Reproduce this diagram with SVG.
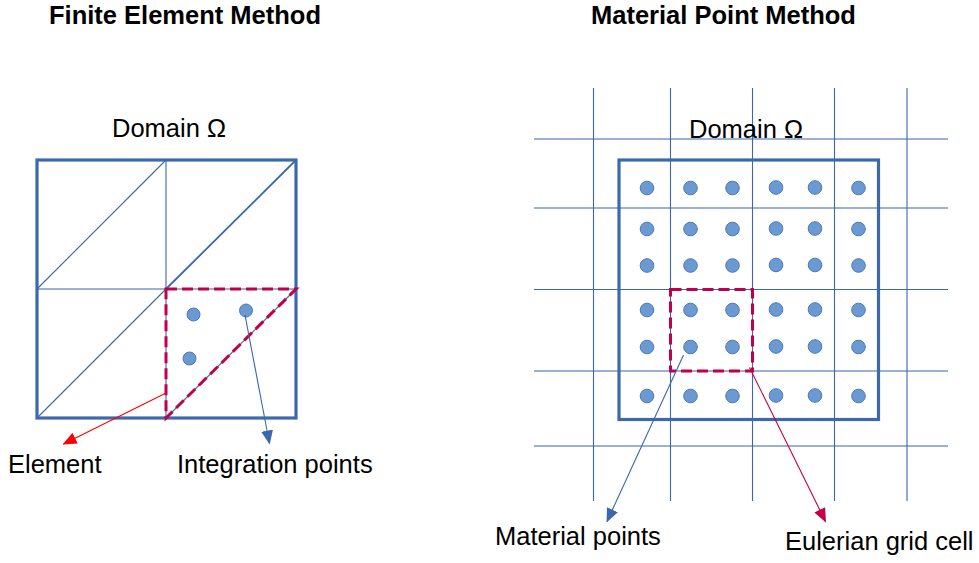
<svg xmlns="http://www.w3.org/2000/svg" width="979" height="563" viewBox="0 0 979 563">
<defs>
<style>
.t{font-family:"Liberation Sans",Arial,sans-serif;font-size:25.5px;fill:#000}
.h{font-family:"Liberation Sans",Arial,sans-serif;font-size:25.5px;font-weight:bold;fill:#000}
.dom{fill:none;stroke:#3D69AA;stroke-width:3.2}
.g{stroke:#3B67AC;stroke-width:1.1;fill:none}
.cell{fill:none;stroke:#C2004A;stroke-width:3;stroke-dasharray:11 5}
.pt{fill:#6B9AD2;stroke:#4A78B6;stroke-width:1}
.ab{stroke:#3B67AC;stroke-width:1.1;fill:none}
</style>
<marker id="mb" markerWidth="14" markerHeight="12" refX="13" refY="6" orient="auto" markerUnits="userSpaceOnUse"><path d="M0,0 L14,6 L0,12 Z" fill="#3B67AC"/></marker>
<marker id="mr" markerWidth="14" markerHeight="12" refX="13" refY="6" orient="auto" markerUnits="userSpaceOnUse"><path d="M0,0 L14,6 L0,12 Z" fill="#FF0000"/></marker>
<marker id="mc" markerWidth="14" markerHeight="12" refX="13" refY="6" orient="auto" markerUnits="userSpaceOnUse"><path d="M0,0 L14,6 L0,12 Z" fill="#C2004A"/></marker>
</defs>
<rect width="979" height="563" fill="#fff"/>

<text class="h" x="49" y="23.5">Finite Element Method</text>
<text class="h" x="591" y="23.5">Material Point Method</text>

<g id="fem-domain">
<text class="t" x="112" y="137">Domain Ω</text>
<line class="g" x1="166" y1="160" x2="166" y2="418"/>
<line class="g" x1="37" y1="289" x2="296" y2="289"/>
<line class="g" x1="37" y1="289" x2="166" y2="160"/>
<line class="g" x1="37" y1="418" x2="166" y2="289"/>
<line class="g" x1="166" y1="289" x2="296" y2="160" style="stroke-width:1.8"/>
<line class="g" x1="166" y1="418" x2="296" y2="289"/>
<rect class="dom" x="37" y="160" width="259" height="258"/>
</g>
<g id="fem-element">
<path class="cell" d="M166,289 L296,289 L166,418 Z"/>
</g>
<g id="fem-points">
<circle class="pt" cx="193.5" cy="314.5" r="6.5"/>
<circle class="pt" cx="246" cy="310.5" r="6.5"/>
<circle class="pt" cx="189.5" cy="358.5" r="6.5"/>
</g>
<g id="fem-labels">
<text class="t" x="8" y="473">Element</text>
<text class="t" x="177" y="473">Integration points</text>
</g>

<g id="mpm-grid">
<line class="g" x1="593.5" y1="88" x2="593.5" y2="501"/>
<line class="g" x1="670.5" y1="88" x2="670.5" y2="501"/>
<line class="g" x1="752.5" y1="88" x2="752.5" y2="501"/>
<line class="g" x1="834.5" y1="88" x2="834.5" y2="501"/>
<line class="g" x1="907" y1="88" x2="907" y2="501"/>
<line class="g" x1="534" y1="139" x2="948" y2="139"/>
<line class="g" x1="534" y1="208" x2="948" y2="208"/>
<line class="g" x1="534" y1="289.5" x2="948" y2="289.5"/>
<line class="g" x1="534" y1="371" x2="948" y2="371"/>
<line class="g" x1="534" y1="446" x2="948" y2="446"/>
</g>
<g id="mpm-domain">
<text class="t" x="689" y="137.5">Domain Ω</text>
<rect class="dom" x="619" y="160" width="259.5" height="259.5"/>
</g>
<g id="mpm-cell">
<rect class="cell" x="670.5" y="289.5" width="82" height="81.5"/>
</g>
<g id="mpm-points">
<g>
<circle class="pt" cx="647" cy="188" r="6.8"/><circle class="pt" cx="690.5" cy="188" r="6.8"/><circle class="pt" cx="732.5" cy="188" r="6.8"/><circle class="pt" cx="776" cy="187.5" r="6.8"/><circle class="pt" cx="815" cy="187.5" r="6.8"/><circle class="pt" cx="858.5" cy="188" r="6.8"/>
</g>
<g>
<circle class="pt" cx="647" cy="229" r="6.8"/><circle class="pt" cx="690.5" cy="229" r="6.8"/><circle class="pt" cx="732.5" cy="229" r="6.8"/><circle class="pt" cx="776" cy="228.5" r="6.8"/><circle class="pt" cx="815" cy="228.5" r="6.8"/><circle class="pt" cx="858.5" cy="229" r="6.8"/>
</g>
<g>
<circle class="pt" cx="647" cy="265.5" r="6.8"/><circle class="pt" cx="690.5" cy="265.5" r="6.8"/><circle class="pt" cx="732.5" cy="265.5" r="6.8"/><circle class="pt" cx="776" cy="265" r="6.8"/><circle class="pt" cx="815" cy="265" r="6.8"/><circle class="pt" cx="858.5" cy="265.5" r="6.8"/>
</g>
<g>
<circle class="pt" cx="647" cy="310" r="6.8"/><circle class="pt" cx="690.5" cy="310" r="6.8"/><circle class="pt" cx="732.5" cy="310" r="6.8"/><circle class="pt" cx="776" cy="309.5" r="6.8"/><circle class="pt" cx="815" cy="309.5" r="6.8"/><circle class="pt" cx="858.5" cy="310" r="6.8"/>
</g>
<g>
<circle class="pt" cx="647" cy="347" r="6.8"/><circle class="pt" cx="690.5" cy="347" r="6.8"/><circle class="pt" cx="732.5" cy="347" r="6.8"/><circle class="pt" cx="776" cy="346.5" r="6.8"/><circle class="pt" cx="815" cy="346.5" r="6.8"/><circle class="pt" cx="858.5" cy="347" r="6.8"/>
</g>
<g>
<circle class="pt" cx="647" cy="396" r="6.8"/><circle class="pt" cx="690.5" cy="396" r="6.8"/><circle class="pt" cx="732.5" cy="396" r="6.8"/><circle class="pt" cx="776" cy="395.5" r="6.8"/><circle class="pt" cx="815" cy="395.5" r="6.8"/><circle class="pt" cx="858.5" cy="396" r="6.8"/>
</g>
</g>
<g id="mpm-labels">
<text class="t" x="495" y="545">Material points</text>
<text class="t" x="785" y="550">Eulerian grid cell</text>
</g>

<g id="connectors">
<line x1="166" y1="393" x2="63.5" y2="444" stroke="#FF0000" stroke-width="1.1" marker-end="url(#mr)"/>
<line class="ab" x1="245" y1="315" x2="269.5" y2="443.5" marker-end="url(#mb)"/>
<line class="ab" x1="683.5" y1="355" x2="607" y2="521.5" marker-end="url(#mb)"/>
<line x1="749.5" y1="367.5" x2="825.5" y2="521.5" stroke="#C2004A" stroke-width="1.1" marker-end="url(#mc)"/>
</g>
</svg>
